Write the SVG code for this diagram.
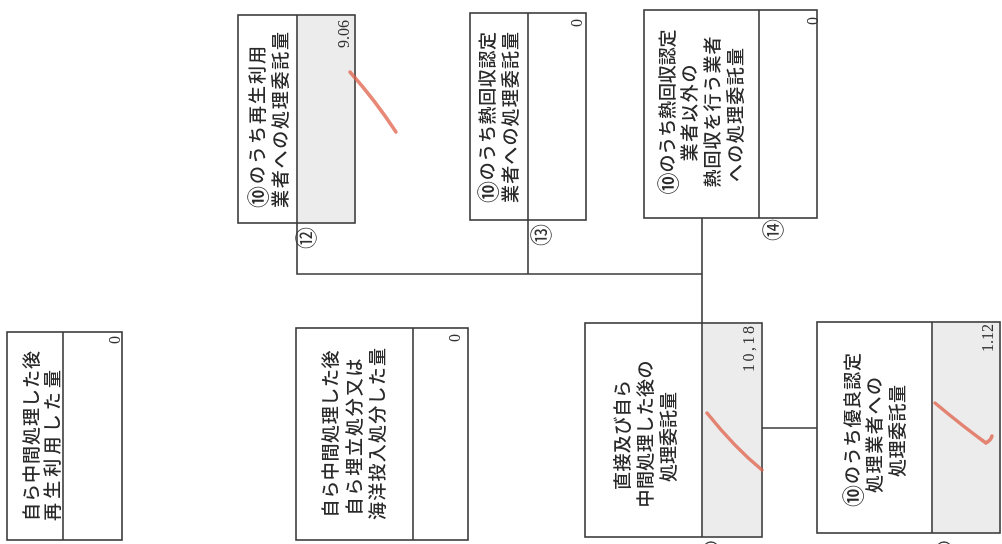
<svg xmlns="http://www.w3.org/2000/svg" width="1002" height="544" viewBox="0 0 1002 544">
<defs>
<filter id="gs" x="-20%" y="-20%" width="140%" height="140%" color-interpolation-filters="sRGB">
<feColorMatrix type="saturate" values="0"/>
</filter>
</defs>
<style>
.box{fill:#fff;stroke:#3a3a3a;stroke-width:1.6}
.gray{fill:#ececec;stroke:none}
.div{stroke:#3a3a3a;stroke-width:1.6}
.lbl{font-family:"Noto Sans CJK JP","Noto Sans",sans-serif;font-size:18px;font-weight:500;fill:#2a2a2a;dominant-baseline:central;filter:url(#gs)}
.c10{font-size:22px}
.val{font-family:"Liberation Serif","Noto Sans CJK JP",serif;font-size:16px;fill:#333;dominant-baseline:central;text-anchor:end;filter:url(#gs)}
.num{font-family:"Noto Sans CJK JP","Noto Sans",sans-serif;font-size:22px;fill:#333;dominant-baseline:central;text-anchor:middle;filter:url(#gs)}
.conn{fill:none;stroke:#3a3a3a;stroke-width:1.6}
.arc{fill:none;stroke:#3a3a3a;stroke-width:1.3}
.pen{fill:none;stroke:#e0604a;stroke-opacity:0.75;stroke-width:3.5;stroke-linecap:round}
</style>
<rect width="1002" height="544" fill="#fff"/>
<g id="connectors">
<path class="conn" d="M297,223 V274 H702"/>
<path class="conn" d="M528,220 V274"/>
<path class="conn" d="M702,218 V323"/>
<path class="conn" d="M762,428 H817"/>
</g>
<g id="node-recycle-self">
<rect class="box" x="7" y="332" width="115" height="208"/>
<line class="div" x1="63" y1="332" x2="63" y2="540"/>
<text class="lbl" transform="translate(30,521) rotate(-90)" textLength="170" lengthAdjust="spacing">自ら中間処理した後</text>
<text class="lbl" transform="translate(51,521) rotate(-90)" textLength="151" lengthAdjust="spacing">再生利用した量</text>
<text class="val" transform="translate(114,336) rotate(-90)">0</text>
</g>
<g id="node-12">
<rect class="box" x="238" y="15" width="117" height="208"/>
<rect class="gray" x="298" y="16" width="56" height="206"/>
<line class="div" x1="297" y1="15" x2="297" y2="223"/>
<text class="lbl" transform="translate(256,208) rotate(-90)" textLength="162" lengthAdjust="spacing"><tspan class="c10">⑩</tspan>のうち再生利用</text>
<text class="lbl" transform="translate(279,208) rotate(-90)" textLength="176" lengthAdjust="spacing">業者への処理委託量</text>
<text class="val" transform="translate(343,20) rotate(-90)">9.06</text>
<path class="pen" d="M350,72 Q375,100 396,132"/>
<text class="num" transform="translate(304,238) rotate(-90)">⑫</text>
</g>
<g id="node-13">
<rect class="box" x="470" y="13" width="116" height="207"/>
<line class="div" x1="528" y1="13" x2="528" y2="220"/>
<text class="lbl" transform="translate(486,203) rotate(-90)" textLength="171" lengthAdjust="spacing"><tspan class="c10">⑩</tspan>のうち熱回収認定</text>
<text class="lbl" transform="translate(509,203) rotate(-90)" textLength="171" lengthAdjust="spacing">業者への処理委託量</text>
<text class="val" transform="translate(576,19) rotate(-90)">0</text>
<text class="num" transform="translate(539,235) rotate(-90)">⑬</text>
</g>
<g id="node-14">
<rect class="box" x="644" y="10" width="173" height="208"/>
<line class="div" x1="759" y1="10" x2="759" y2="218"/>
<text class="lbl" text-anchor="middle" transform="translate(666,112) rotate(-90)" textLength="165" lengthAdjust="spacing"><tspan class="c10">⑩</tspan>のうち熱回収認定</text>
<text class="lbl" text-anchor="middle" transform="translate(688,113) rotate(-90)" textLength="97" lengthAdjust="spacing">業者以外の</text>
<text class="lbl" text-anchor="middle" transform="translate(711,112) rotate(-90)" textLength="151" lengthAdjust="spacing">熱回収を行う業者</text>
<text class="lbl" text-anchor="middle" transform="translate(734,115) rotate(-90)" textLength="134" lengthAdjust="spacing">への処理委託量</text>
<text class="val" transform="translate(812,17) rotate(-90)">0</text>
<text class="num" transform="translate(771,230) rotate(-90)">⑭</text>
</g>
<g id="node-landfill-self">
<rect class="box" x="296" y="328" width="172" height="212"/>
<line class="div" x1="413" y1="328" x2="413" y2="540"/>
<text class="lbl" text-anchor="middle" transform="translate(329,434) rotate(-90)" textLength="167" lengthAdjust="spacing">自ら中間処理した後</text>
<text class="lbl" text-anchor="middle" transform="translate(353,437) rotate(-90)" textLength="157" lengthAdjust="spacing">自ら埋立処分又は</text>
<text class="lbl" text-anchor="middle" transform="translate(376,434) rotate(-90)" textLength="172" lengthAdjust="spacing">海洋投入処分した量</text>
<text class="val" transform="translate(454,334) rotate(-90)">0</text>
</g>
<g id="node-10">
<rect class="box" x="585" y="323" width="177" height="214"/>
<rect class="gray" x="703" y="324" width="58" height="212"/>
<line class="div" x1="702" y1="323" x2="702" y2="537"/>
<text class="lbl" text-anchor="middle" transform="translate(621,435) rotate(-90)" textLength="110" lengthAdjust="spacing">直接及び自ら</text>
<text class="lbl" text-anchor="middle" transform="translate(644,434) rotate(-90)" textLength="147" lengthAdjust="spacing">中間処理した後の</text>
<text class="lbl" text-anchor="middle" transform="translate(667,437) rotate(-90)" textLength="90" lengthAdjust="spacing">処理委託量</text>
<text class="val" transform="translate(748,326) rotate(-90)" textLength="46" lengthAdjust="spacing">10,18</text>
<path class="pen" d="M707,413 Q735,448 762,470"/>
<circle class="arc" cx="711" cy="550" r="8"/>
</g>
<g id="node-11">
<rect class="box" x="817" y="322" width="183" height="211"/>
<rect class="gray" x="933" y="323" width="66" height="209"/>
<line class="div" x1="932" y1="322" x2="932" y2="533"/>
<text class="lbl" text-anchor="middle" transform="translate(851,430) rotate(-90)" textLength="154" lengthAdjust="spacing"><tspan class="c10">⑩</tspan>のうち優良認定</text>
<text class="lbl" text-anchor="middle" transform="translate(873,435) rotate(-90)" textLength="116" lengthAdjust="spacing">処理業者への</text>
<text class="lbl" text-anchor="middle" transform="translate(896,431) rotate(-90)" textLength="92" lengthAdjust="spacing">処理委託量</text>
<text class="val" transform="translate(987,324) rotate(-90)">1.12</text>
<path class="pen" d="M935,403 Q965,428 986,443 Q991,440 992,436"/>
<circle class="arc" cx="944" cy="550" r="8"/>
</g>
</svg>
